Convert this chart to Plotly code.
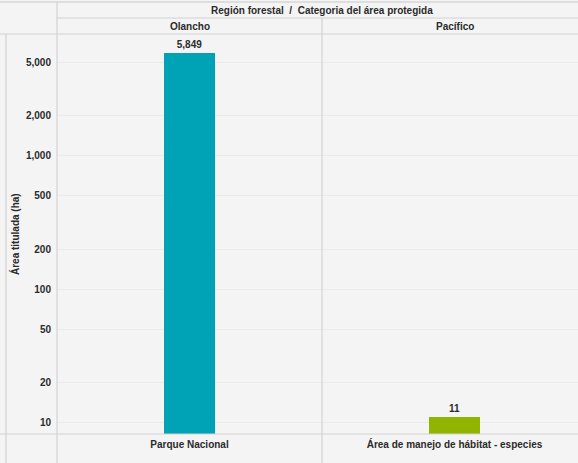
import plotly.graph_objects as go

# ---- data ----
header_title = "Región forestal  /  Categoria del área protegida"
regions = ["Olancho", "Pacífico"]
categories = ["Parque Nacional", "Área de manejo de hábitat - especies"]
values = [5849, 11]
bar_colors = ["#00A3B5", "#91B400"]
tick_vals = [10, 20, 50, 100, 200, 500, 1000, 2000, 5000]
tick_text = ["10", "20", "50", "100", "200", "500", "1,000", "2,000", "5,000"]
y_title = "Área titulada (ha)"

W, H = 578, 463
BG = "#F4F4F4"
LINE = "#D2D2D2"
TXT = "#2B2B2B"
FONT = "Liberation Sans, Arial, sans-serif"
FS = 10

def px(x):
    return x / W

def py(y):
    return 1 - y / H

x_left, x_mid, x_right = 57, 322, 578
y_top_plot, y_bot_plot = 34, 434
panel_w = x_mid - x_left

bold = dict(family=FONT, size=FS, color=TXT, weight="bold")

fig = go.Figure()
for i, (cat, val, col) in enumerate(zip(categories, values, bar_colors)):
    fig.add_trace(go.Bar(
        x=[cat], y=[val], marker=dict(color=col, line=dict(width=0)),
        width=0.19,
        texttemplate="%{y:,.0f}", textposition="outside",
        textfont=bold,
        cliponaxis=False,
        xaxis="x" if i == 0 else "x2", yaxis="y",
        showlegend=False, hoverinfo="x+y",
    ))

xcommon = dict(showgrid=False, zeroline=False, showline=False, ticks="",
               tickfont=bold, automargin=False, fixedrange=True,
               ticklabelstandoff=3)
fig.update_layout(
    width=W, height=H,
    margin=dict(l=0, r=0, t=0, b=0),
    paper_bgcolor=BG, plot_bgcolor=BG,
    bargap=0,
    xaxis=dict(domain=[px(x_left), px(x_mid)], range=[-0.5, 0.5], **xcommon),
    xaxis2=dict(domain=[px(x_mid), px(x_right)],
                range=[-0.5, -0.5 + (x_right - x_mid) / panel_w], anchor="y", **xcommon),
    yaxis=dict(type="log", domain=[py(y_bot_plot), py(y_top_plot)],
               range=[0.9154, 3.9116], tickvals=tick_vals, ticktext=tick_text,
               tickfont=bold,
               showgrid=True, gridcolor="#EAEAEA", gridwidth=1,
               zeroline=False, showline=False, ticks="", automargin=False,
               ticklabelstandoff=5, anchor="x"),
)

shapes = []
def hline(y, x0, x1, color=LINE, w=1.2):
    shapes.append(dict(type="line", xref="paper", yref="paper",
                       x0=px(x0), x1=px(x1), y0=py(y), y1=py(y),
                       line=dict(color=color, width=w)))
def vline(x, y0, y1, color=LINE, w=1.2):
    shapes.append(dict(type="line", xref="paper", yref="paper",
                       x0=px(x), x1=px(x), y0=py(y0), y1=py(y1),
                       line=dict(color=color, width=w)))

hline(2, 0, W, "#C8C8C8")
hline(18, x_left, W)
hline(y_top_plot, 0, W)
hline(y_bot_plot, 0, W)
vline(x_left, 2, H)
vline(x_mid, 18, H)
vline(6, y_top_plot, H)
fig.update_layout(shapes=shapes)

ann = [
    dict(text=header_title, xref="paper", yref="paper", x=px(322), y=py(10),
         showarrow=False, xanchor="center", yanchor="middle", font=bold),
    dict(text=regions[0], xref="x", yref="paper", x=0, y=py(26),
         showarrow=False, xanchor="center", yanchor="middle", font=bold),
    dict(text=regions[1], xref="x2", yref="paper", x=0, y=py(26),
         showarrow=False, xanchor="center", yanchor="middle", font=bold),
    dict(text=y_title, xref="paper", yref="paper", x=px(15), y=py(234),
         textangle=-90, showarrow=False, xanchor="center", yanchor="middle",
         font=bold),
]
fig.update_layout(annotations=ann)

fig.write_html(
    "out.html",
    config={"displayModeBar": False},
    post_script="document.body.style.margin='0';document.body.style.overflow='hidden';",
)
